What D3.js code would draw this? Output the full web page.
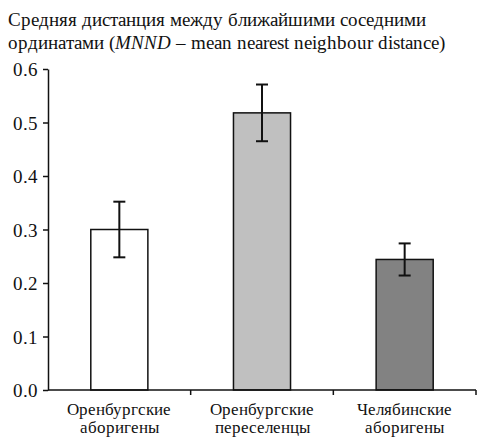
<!DOCTYPE html>
<html>
<head>
<meta charset="utf-8">
<script src="https://cdn.jsdelivr.net/npm/d3@7"></script>
<style>
  @font-face {
    font-family: "ChartSerif";
    src: local("Liberation Serif"), local("LiberationSerif"), local("LiberationSerif-Regular");
    font-style: normal;
  }
  @font-face {
    font-family: "ChartSerif";
    src: local("Liberation Serif Italic"), local("LiberationSerif-Italic");
    font-style: italic;
  }
  body { margin: 0; }
  #chart text { font-family: "ChartSerif", "Liberation Serif", serif; }
</style>
</head>
<body>
<svg id="chart" width="484" height="438"></svg>
<script>
// Mean nearest neighbour distance by population group
const groups = [
  ["Оренбургские", "аборигены"],
  ["Оренбургские", "переселенцы"],
  ["Челябинские", "аборигены"]
];
const means = [0.300, 0.518, 0.244];
const errors = [0.052, 0.053, 0.030];
const fills = ["#ffffff", "#c0c0c0", "#828282"];
const yTicks = [0, 0.1, 0.2, 0.3, 0.4, 0.5, 0.6];

const INK = "#111";
const serif = (sel, px) => sel.attr("font-size", px);

const svg = d3.select("#chart");
const margin = { left: 48, right: 8, top: 69, bottom: 48 };
const W = 484, H = 438;

const x = d3.scaleBand()
  .domain(d3.range(groups.length))
  .range([margin.left, W - margin.right])
  .paddingInner(0.6)
  .paddingOuter(0.3);
const y = d3.scaleLinear().domain([0, 0.6]).range([H - margin.bottom, margin.top]);

// Title, two lines with an italic abbreviation
svg.append("text").attr("x", 8).attr("y", 26).attr("fill", INK)
  .call(serif, 19)
  .text("Средняя дистанция между ближайшими соседними");
const l2 = svg.append("text").attr("x", 8).attr("y", 49).attr("fill", INK).call(serif, 19);
l2.append("tspan").text("ординатами (");
l2.append("tspan").attr("font-style", "italic").text("MNND");
l2.append("tspan").text(" – mean nearest neighbour distance)");

// Bars
svg.append("g").selectAll("rect")
  .data(means)
  .join("rect")
  .attr("x", (d, i) => x(i))
  .attr("width", x.bandwidth())
  .attr("y", d => y(d))
  .attr("height", d => y(0) - y(d))
  .attr("fill", (d, i) => fills[i])
  .attr("stroke", INK)
  .attr("stroke-width", 1.5);

// Error bars
const eb = svg.append("g").attr("stroke", INK).attr("stroke-width", 2);
means.forEach((m, i) => {
  const cx = x(i) + x.bandwidth() / 2;
  const lo = y(m - errors[i]), hi = y(m + errors[i]);
  eb.append("line").attr("x1", cx).attr("x2", cx).attr("y1", lo).attr("y2", hi);
  eb.append("line").attr("x1", cx - 6).attr("x2", cx + 6).attr("y1", lo).attr("y2", lo);
  eb.append("line").attr("x1", cx - 6).attr("x2", cx + 6).attr("y1", hi).attr("y2", hi);
});

// Y axis
const yAxis = svg.append("g")
  .attr("transform", `translate(${margin.left},0)`)
  .call(d3.axisLeft(y).tickValues(yTicks).tickFormat(d3.format(".1f")).tickSize(5).tickSizeOuter(0));
yAxis.attr("font-family", null).attr("font-size", null);
yAxis.selectAll("text").attr("x", -10).attr("dy", "0.35em").attr("fill", INK).call(serif, 19);
yAxis.selectAll("line, path").attr("stroke", INK).attr("stroke-width", 1.5);

// X axis: baseline with ticks at group boundaries
const xg = svg.append("g").attr("stroke", INK).attr("stroke-width", 1.5);
xg.append("line").attr("x1", margin.left).attr("x2", W - margin.right)
  .attr("y1", y(0)).attr("y2", y(0));
const step = x.step();
d3.range(1, groups.length + 1).forEach(k => {
  const bx = margin.left + (x.paddingOuter() - x.paddingInner() / 2) * step + k * step;
  xg.append("line").attr("x1", bx).attr("x2", bx).attr("y1", y(0)).attr("y2", y(0) + 5);
});

// Category labels, one text per line
groups.forEach((lines, i) => {
  const cx = x(i) + x.bandwidth() / 2;
  lines.forEach((s, j) => {
    svg.append("text").attr("text-anchor", "middle").attr("fill", INK)
      .attr("x", cx).attr("y", 415 + j * 18)
      .call(serif, 16.5)
      .text(s);
  });
});
</script>
</body>
</html>
